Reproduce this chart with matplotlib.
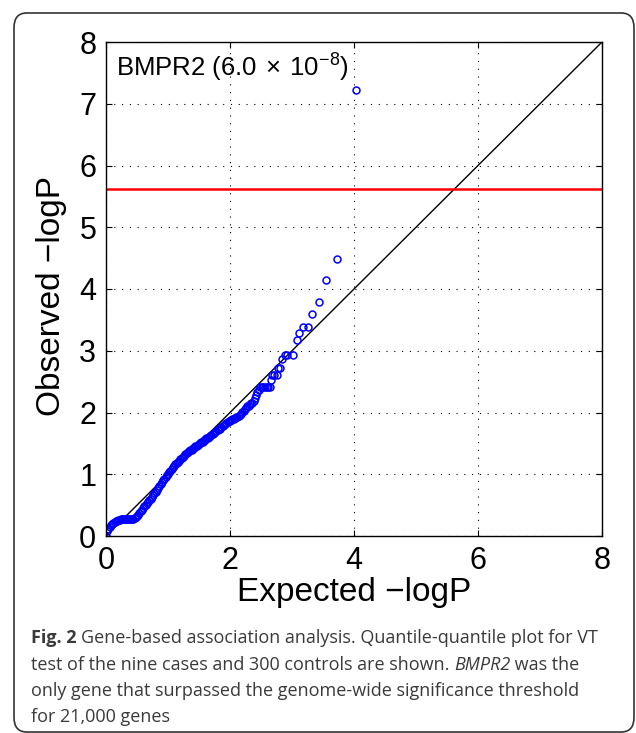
import matplotlib
matplotlib.use('Agg')
import matplotlib.pyplot as plt
from matplotlib.patches import FancyBboxPatch

plt.rcParams['font.family'] = ['Liberation Sans', 'DejaVu Sans']
plt.rcParams['mathtext.fontset'] = 'custom'
plt.rcParams['mathtext.rm'] = 'Liberation Sans'

# QQ points (expected -logP, observed -logP)
expected = [0.00, 0.02, 0.04, 0.06, 0.08, 0.10, 0.12, 0.14, 0.16, 0.18,
            0.20, 0.22, 0.24, 0.26, 0.28, 0.30, 0.32, 0.34, 0.36, 0.38,
            0.40, 0.42, 0.44, 0.46, 0.48, 0.50, 0.52, 0.54, 0.56, 0.58,
            0.60, 0.62, 0.64, 0.66, 0.68, 0.70, 0.72, 0.74, 0.76, 0.78,
            0.80, 0.82, 0.84, 0.86, 0.88, 0.90, 0.92, 0.94, 0.96, 0.98,
            1.00, 1.02, 1.04, 1.06, 1.08, 1.10, 1.12, 1.14, 1.16, 1.18,
            1.20, 1.22, 1.24, 1.26, 1.28, 1.30, 1.32, 1.34, 1.36, 1.38,
            1.40, 1.42, 1.44, 1.46, 1.48, 1.50, 1.52, 1.54, 1.56, 1.58,
            1.60, 1.62, 1.64, 1.66, 1.68, 1.70, 1.72, 1.74, 1.76, 1.78,
            1.80, 1.82, 1.84, 1.86, 1.88, 1.90, 1.92, 1.94, 1.96, 1.98,
            2.00, 2.02, 2.04, 2.06, 2.08, 2.10, 2.12, 2.14, 2.16, 2.18,
            2.20, 2.22, 2.24, 2.26, 2.28, 2.30, 2.32, 2.34, 2.36, 2.38,
            2.40, 2.42, 2.44, 2.46, 2.48, 2.51, 2.54, 2.57, 2.59, 2.62,
            2.65, 2.66, 2.68, 2.71, 2.76, 2.78, 2.81, 2.84, 2.88, 2.92,
            3.02, 3.08, 3.12, 3.17, 3.26, 3.32, 3.43, 3.55, 3.72, 4.03]
observed = [0.00, 0.08, 0.12, 0.15, 0.18, 0.20, 0.21, 0.23, 0.24, 0.25,
            0.26, 0.265, 0.27, 0.275, 0.28, 0.28, 0.28, 0.28, 0.28, 0.28,
            0.28, 0.28, 0.28, 0.29, 0.30, 0.32, 0.34, 0.37, 0.40, 0.42,
            0.45, 0.48, 0.50, 0.53, 0.55, 0.58, 0.60, 0.63, 0.66, 0.69,
            0.72, 0.75, 0.78, 0.81, 0.84, 0.87, 0.90, 0.93, 0.95, 0.98,
            1.00, 1.03, 1.06, 1.08, 1.11, 1.13, 1.16, 1.18, 1.20, 1.22,
            1.24, 1.26, 1.28, 1.30, 1.32, 1.34, 1.36, 1.37, 1.39, 1.40,
            1.42, 1.43, 1.45, 1.46, 1.48, 1.49, 1.51, 1.52, 1.53, 1.55,
            1.56, 1.58, 1.59, 1.61, 1.62, 1.64, 1.65, 1.67, 1.68, 1.70,
            1.71, 1.73, 1.74, 1.76, 1.78, 1.80, 1.81, 1.83, 1.84, 1.86,
            1.87, 1.88, 1.89, 1.90, 1.91, 1.92, 1.93, 1.95, 1.96, 1.98,
            2.01, 2.03, 2.05, 2.08, 2.10, 2.11, 2.13, 2.15, 2.16, 2.19,
            2.24, 2.29, 2.33, 2.36, 2.42, 2.42, 2.42, 2.42, 2.42, 2.42,
            2.42, 2.53, 2.61, 2.61, 2.61, 2.72, 2.72, 2.86, 2.93, 2.93,
            2.93, 3.17, 3.28, 3.39, 3.39, 3.59, 3.79, 4.14, 4.49, 7.22]
threshold = 5.62
ticks = [0, 2, 4, 6, 8]
yticks = [0, 1, 2, 3, 4, 5, 6, 7, 8]

fig = plt.figure(figsize=(6.36, 7.33), dpi=100)

# rounded frame round the whole figure panel
frame = FancyBboxPatch((14 / 636, 1 / 733), 620 / 636, 719 / 733,
                       boxstyle='round,pad=0,rounding_size=0.02',
                       transform=fig.transFigure, fill=False,
                       edgecolor='#333333', linewidth=1.2)
fig.patches.append(frame)

ax = fig.add_axes([106 / 636, 197 / 733, 496 / 636, 494 / 733])
ax.plot([0, 8], [0, 8], color='black', linewidth=1.0)
ax.axhline(threshold, color='#ff0000', linewidth=1.8)
ax.plot(expected, observed, 'o', markerfacecolor='none',
        markeredgecolor='#0000ff', markersize=5.0, markeredgewidth=1.1)

ax.set_xlim(0, 8)
ax.set_ylim(0, 8)
ax.set_xticks(ticks)
ax.set_yticks(yticks)
ax.grid(True, color='black', linestyle=(0, (1, 6)), linewidth=0.8)
ax.tick_params(direction='in', length=4, width=0.8, top=True, right=True,
               labelsize=22, pad=7)
for s in ax.spines.values():
    s.set_linewidth(1.0)
ax.set_xlabel('Expected \u2212logP', fontsize=24, labelpad=1)
ax.set_ylabel('Observed \u2212logP', fontsize=24)
ax.yaxis.set_label_coords(-0.078, 0.485)

ax.text(0.02, 7.61, r'BMPR2 (6.0$\,\times\,$10$^{-8}$)', fontsize=18.5,
        transform=ax.get_yaxis_transform(), va='center', ha='left')

# caption, placed segment by segment so bold/italic can mix
cap_font = 'Open Sans'
cap_size = 13
lines = [
    [('Fig. 2 ', 'bold', 'normal'),
     ('Gene-based association analysis. Quantile-quantile plot for VT', 'normal', 'normal')],
    [('test of the nine cases and 300 controls are shown. ', 'normal', 'normal'),
     ('BMPR2', 'normal', 'italic'), (' was the', 'normal', 'normal')],
    [('only gene that surpassed the genome-wide significance threshold', 'normal', 'normal')],
    [('for 21,000 genes', 'normal', 'normal')],
]
baselines = [643, 669.5, 695.5, 722]
fig.canvas.draw()
renderer = fig.canvas.get_renderer()
for segs, yb in zip(lines, baselines):
    x = 31
    for txt, weight, style in segs:
        t = fig.text(x / 636, 1 - yb / 733, txt, family=cap_font, size=cap_size,
                     weight=weight, style=style, color='#3a3a3a',
                     va='baseline', ha='left')
        bb = t.get_window_extent(renderer)
        x += bb.width

fig.savefig('out.png', dpi=100)
